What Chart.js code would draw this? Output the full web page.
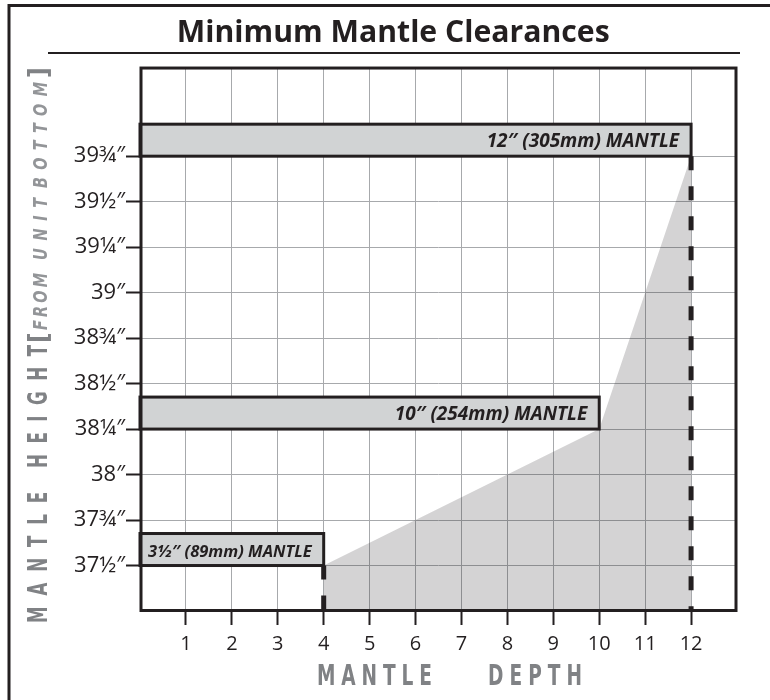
<!DOCTYPE html>
<html><head><meta charset="utf-8">
<script src="https://cdn.jsdelivr.net/npm/chart.js@4.4.0/dist/chart.umd.min.js"></script>
<style>html,body{margin:0;padding:0;background:#fff}canvas{display:block}</style>
</head><body>
<canvas id="c" width="770" height="700"></canvas>
<script>
const titleText = 'Minimum Mantle Clearances';
const xTickValues = [1, 2, 3, 4, 5, 6, 7, 8, 9, 10, 11, 12];
const xTickLabels = ['1', '2', '3', '4', '5', '6', '7', '8', '9', '10', '11', '12'];
const yTickValues = [37.5, 37.75, 38, 38.25, 38.5, 38.75, 39, 39.25, 39.5, 39.75];
const yTickLabels = ['37½″', '37¾″', '38″', '38¼″', '38½″', '38¾″', '39″', '39¼″', '39½″', '39¾″'];
const mantleNames = ['3½″ (89mm) MANTLE', '10″ (254mm) MANTLE', '12″ (305mm) MANTLE'];
const mantleDepthLimits = [4, 10, 12];
const mantleHeights = [37.5, 38.25, 39.75];
const clearanceX = [4, 10, 12];
const clearanceY = [37.5, 38.25, 39.75];
const xAxisTitle = ['MANTLE', 'DEPTH'];
const yAxisTitle = ['MANTLE', 'HEIGHT'];
const yAxisSubtitle = ['FROM', 'UNIT', 'BOTTOM'];
const xMin = 0, xMax = 13, yMin = 37.25, yMax = 40.24;

const INK = '#231f20';
const GRAY = '#808285';
const LIGHTGRAY = '#939598';

const shadeData = clearanceX.map((x, i) => ({x: x, y: clearanceY[i]}));
const n = clearanceX.length - 1;
const dashFirst = [{x: clearanceX[0], y: clearanceY[0]}, {x: clearanceX[0], y: yMin}];
const dashLast = [{x: clearanceX[n], y: clearanceY[n]}, {x: clearanceX[n], y: yMin}];

function tracked(ctx, text, x0, x1, sx) {
  const chars = [...text];
  const w = chars.map(c => ctx.measureText(c).width * sx);
  const total = w.reduce((a, b) => a + b, 0);
  const gap = chars.length > 1 ? (x1 - x0 - total) / (chars.length - 1) : 0;
  let x = x0;
  chars.forEach((c, i) => {
    ctx.save(); ctx.translate(x, 0); ctx.scale(sx, 1); ctx.fillText(c, 0, 0); ctx.restore();
    x += w[i] + gap;
  });
}

const decor = {
  id: 'decor',
  beforeDraw(chart) {
    const ctx = chart.ctx;
    ctx.save(); ctx.fillStyle = '#fff'; ctx.fillRect(0, 0, chart.width, chart.height); ctx.restore();
  },
  afterDatasetsDraw(chart) {
    const ctx = chart.ctx, xs = chart.scales.x, ys = chart.scales.y;
    ctx.save();
    mantleNames.forEach((name, i) => {
      const l = xs.getPixelForValue(xMin), r = xs.getPixelForValue(mantleDepthLimits[i]);
      const b = ys.getPixelForValue(mantleHeights[i]), t = b - 32;
      ctx.fillStyle = '#d1d3d4'; ctx.fillRect(l, t, r - l, b - t);
      ctx.lineWidth = 3; ctx.strokeStyle = INK; ctx.strokeRect(l, t, r - l, b - t);
      ctx.fillStyle = INK;
      ctx.font = 'italic bold ' + (i === 0 ? 16.5 : 19) + 'px "Open Sans"';
      ctx.textAlign = 'right'; ctx.textBaseline = 'alphabetic';
      ctx.fillText(name, r - 12, b - 9);
    });
    ctx.restore();
  },
  afterDraw(chart) {
    const ctx = chart.ctx, a = chart.chartArea;
    ctx.save();
    ctx.strokeStyle = INK; ctx.lineWidth = 3;
    ctx.strokeRect(a.left + 1, a.top + 1, a.right - a.left - 2, a.bottom - a.top - 1.5);
    ctx.beginPath(); ctx.moveTo(9, 710); ctx.lineTo(9, 5.5); ctx.lineTo(780, 5.5); ctx.stroke();
    ctx.lineWidth = 2; ctx.beginPath(); ctx.moveTo(48, 53); ctx.lineTo(740, 53); ctx.stroke();
    ctx.fillStyle = GRAY; ctx.textAlign = 'left'; ctx.textBaseline = 'alphabetic';
    ctx.font = 'bold 29px "DejaVu Sans"';
    ctx.save(); ctx.translate(0, 685);
    tracked(ctx, xAxisTitle[0], 317, 432, 0.64);
    tracked(ctx, xAxisTitle[1], 488, 582, 0.64);
    ctx.restore();
    ctx.save(); ctx.translate(47, 0); ctx.rotate(-Math.PI / 2);
    ctx.font = 'bold 26px "DejaVu Sans"';
    tracked(ctx, yAxisTitle[0], -623, -492, 0.64);
    tracked(ctx, yAxisTitle[1], -468, -345, 0.64);
    tracked(ctx, '[', -343, -333, 0.9);
    tracked(ctx, ']', -78, -69, 0.9);
    ctx.fillStyle = LIGHTGRAY;
    ctx.font = 'italic bold 20px "DejaVu Sans"';
    tracked(ctx, yAxisSubtitle[0], -330, -273, 0.72);
    tracked(ctx, yAxisSubtitle[1], -260, -198, 0.72);
    tracked(ctx, yAxisSubtitle[2], -188, -82, 0.72);
    ctx.restore();
    ctx.restore();
  }
};

new Chart(document.getElementById('c'), {
  type: 'line',
  data: {
    datasets: [
      {data: shadeData, fill: 'start', backgroundColor: 'rgba(38,36,40,0.2)', borderColor: 'rgba(0,0,0,0)', borderWidth: 0, pointRadius: 0, order: 3},
      {data: dashFirst, borderColor: INK, borderWidth: 5, borderDash: [14, 16], borderCapStyle: 'butt', pointRadius: 0, fill: false, order: 1},
      {data: dashLast, borderColor: INK, borderWidth: 5, borderDash: [14, 16], borderCapStyle: 'butt', pointRadius: 0, fill: false, order: 1}
    ]
  },
  options: {
    responsive: false,
    animation: false,
    events: [],
    layout: {padding: {left: 49.5, right: 33, top: 0, bottom: 0}},
    plugins: {
      legend: {display: false},
      tooltip: {enabled: false},
      title: {display: true, text: titleText, color: INK, font: {family: 'Open Sans', size: 30.2, weight: 'bold', lineHeight: 1.2}, padding: {top: 15.5, bottom: 15.3}}
    },
    scales: {
      x: {
        type: 'linear', min: xMin, max: xMax,
        afterFit: s => { s.height = 89; },
        afterBuildTicks: s => { s.ticks = xTickValues.map(v => ({value: v})); },
        ticks: {autoSkip: false, maxRotation: 0, padding: 7, color: INK, font: {family: 'Open Sans', size: 20},
          callback: v => xTickLabels[xTickValues.indexOf(v)]},
        grid: {color: '#a7a9ac', lineWidth: 1, tickColor: INK, tickWidth: 2, tickLength: 14},
        border: {display: false}
      },
      y: {
        type: 'linear', min: yMin, max: yMax,
        afterFit: s => { s.width = 90.5; },
        afterBuildTicks: s => { s.ticks = yTickValues.map(v => ({value: v})); },
        ticks: {autoSkip: false, padding: 1, color: INK, font: {family: 'Open Sans', size: 22},
          callback: v => yTickLabels[yTickValues.indexOf(v)]},
        grid: {color: '#a7a9ac', lineWidth: 1, tickColor: INK, tickWidth: 2, tickLength: 14},
        border: {display: false}
      }
    }
  },
  plugins: [decor]
});
</script>
</body></html>
